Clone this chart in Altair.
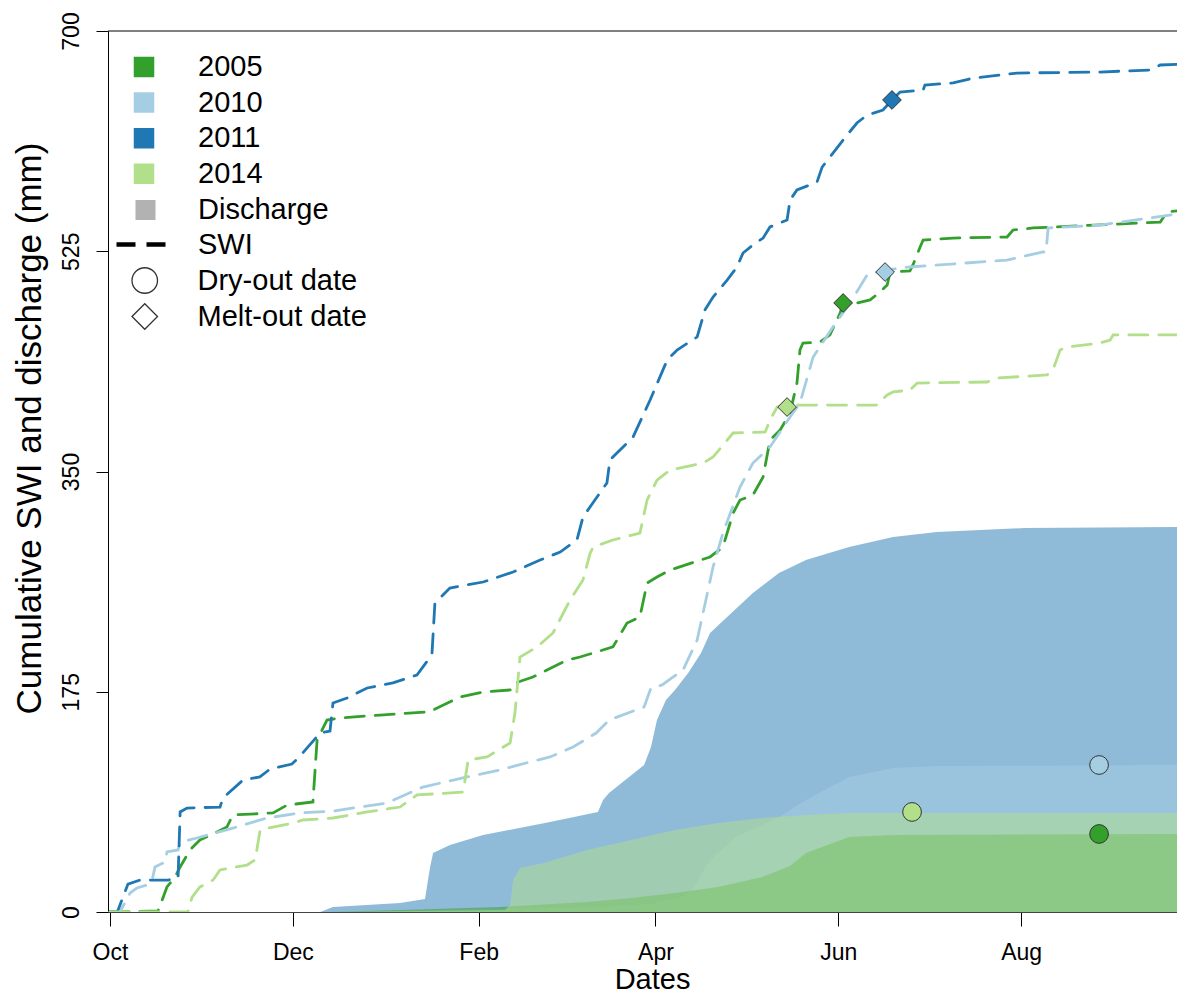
import altair as alt
import pandas as pd

# ---------------- data ----------------
years = ["2005", "2010", "2011", "2014"]
year_colors = ["#33a02c", "#a6cee3", "#1f78b4", "#b2df8a"]

# x axis: days since 1 October
tick_days = [0, 61, 123, 182, 243, 304]
tick_labels = ["Oct", "Dec", "Feb", "Apr", "Jun", "Aug"]
y_ticks = [0, 175, 350, 525, 700]

# cumulative SWI (mm)
swi_2011_day = [0, 2.3, 2.7, 6.0, 10.0, 19.4, 22.7, 23.4, 25.7, 36.7, 37.7, 44.4, 50.0, 53.4, 60.7,
                63.4, 70.1, 73.4, 74.4, 79.1, 85.8, 94.4, 102.4, 106.1, 107.4, 108.4, 113.4, 124.5,
                134.5, 143.5, 150.2, 155.8, 157.8, 165.8, 166.8, 174.5, 180.2, 185.9, 189.2, 195.9,
                198.5, 201.2, 205.9, 209.2, 211.2, 214.5, 217.9, 220.2, 225.9, 226.9, 229.2, 235.9,
                237.6, 240.2, 244.6, 249.2, 252.6, 257.9, 260.9, 263.6, 271.3, 271.9, 281.3, 288.0,
                302.6, 330.3, 347.0, 350.4, 358.7]
swi_2011_val = [0, 0, 1.6, 22.2, 25.4, 25.4, 27.0, 79.5, 82.6, 83.4, 90.6, 104.9, 107.3, 113.6, 117.6,
                123.9, 142.2, 143.8, 166.1, 170.0, 178.0, 182.0, 188.3, 200.2, 204.2, 245.5, 257.4,
                262.2, 270.1, 279.7, 286.0, 295.6, 313.8, 340.9, 359.1, 377.4, 406.8, 438.6, 446.5,
                456.9, 478.3, 488.6, 502.1, 512.5, 523.6, 530.0, 535.5, 544.3, 549.8, 565.7, 573.7,
                580.0, 591.9, 599.9, 613.4, 626.9, 633.2, 637.2, 645.2, 651.5, 653.1, 657.1, 658.7,
                662.6, 666.6, 667.4, 669.0, 673.0, 673.8]

swi_2010_day = [0, 3.3, 6.7, 9.0, 12.3, 14.3, 15.0, 18.4, 19.0, 22.7, 23.4, 29.0, 41.0, 52.4, 63.4,
                74.4, 92.4, 104.4, 119.1, 130.1, 140.1, 146.8, 154.5, 162.2, 166.5, 178.2, 180.5,
                184.2, 191.2, 195.9, 201.2, 204.5, 210.2, 214.5, 220.2, 226.9, 230.2, 234.6, 241.2,
                246.9, 252.6, 258.6, 266.9, 299.3, 311.3, 312.3, 313.0, 330.3, 358.7]
swi_2010_val = [0, 0, 15.1, 19.1, 21.5, 27.8, 35.8, 39.7, 47.7, 49.3, 55.6, 58.8, 66.7, 74.7, 78.7,
                80.2, 86.6, 99.3, 107.3, 112.8, 119.2, 123.2, 131.1, 142.2, 152.5, 162.9, 178.0,
                180.4, 192.3, 216.1, 274.1, 301.1, 337.7, 356.7, 369.5, 393.3, 404.4, 441.0, 464.8,
                483.9, 506.1, 510.1, 512.5, 518.0, 524.4, 524.4, 543.5, 545.8, 555.4]

swi_2005_day = [0, 16.0, 17.4, 19.0, 21.7, 23.4, 26.7, 30.0, 35.7, 39.0, 41.0, 54.4, 59.1, 67.7, 69.1,
                72.4, 76.7, 90.1, 105.8, 107.8, 116.8, 124.5, 133.5, 135.1, 141.1, 145.8, 152.5,
                156.8, 167.8, 172.5, 176.8, 179.2, 182.5, 186.9, 200.2, 204.5, 207.9, 210.2, 214.5,
                217.9, 220.2, 223.6, 226.9, 229.2, 230.2, 231.2, 236.9, 240.2, 243.6, 244.6, 249.2,
                253.6, 256.9, 259.3, 260.3, 266.9, 267.9, 270.3, 271.3, 281.3, 299.3, 301.3, 308.0,
                350.4, 352.7, 358.7]
swi_2005_val = [0, 0.8, 9.5, 19.9, 27.8, 35.8, 49.3, 57.2, 63.6, 67.5, 77.1, 78.7, 85.0, 87.4, 136.7,
                152.5, 154.1, 156.5, 158.9, 160.5, 170.8, 174.8, 176.4, 181.9, 186.7, 192.3, 200.2,
                202.6, 210.6, 229.6, 234.4, 261.4, 266.2, 271.7, 282.1, 290.0, 317.0, 327.3, 331.3,
                345.6, 375.0, 383.0, 396.5, 420.3, 446.5, 452.1, 452.9, 458.5, 475.9, 483.9, 483.9,
                486.3, 492.6, 498.2, 508.5, 509.3, 514.1, 528.4, 533.9, 535.5, 536.3, 541.9, 543.5,
                548.2, 556.2, 557.8]

swi_2014_day = [0, 26.0, 27.4, 30.0, 34.4, 36.7, 45.7, 48.4, 50.1, 54.4, 61.1, 64.4, 74.4, 85.8, 96.8,
                102.4, 117.8, 119.5, 125.8, 133.5, 135.1, 136.8, 142.5, 147.8, 153.5, 157.8, 160.2,
                161.2, 167.8, 176.8, 179.2, 182.5, 186.9, 197.9, 201.2, 207.9, 218.6, 220.2, 222.6,
                225.9, 255.9, 259.3, 261.3, 266.9, 269.3, 292.6, 296.0, 312.6, 314.6, 317.0, 319.3,
                330.3, 333.7, 334.7, 358.7]
swi_2014_val = [0, 0, 11.9, 19.9, 25.4, 33.4, 37.3, 41.3, 65.2, 67.5, 70.7, 73.1, 74.7, 79.5, 83.4,
                93.0, 95.3, 120.8, 123.2, 134.3, 158.1, 202.6, 210.6, 221.7, 247.9, 263.8, 285.2,
                290.0, 295.6, 301.1, 327.3, 343.2, 351.2, 356.7, 361.5, 380.6, 381.4, 390.9, 401.2,
                402.8, 402.8, 410.8, 413.2, 414.7, 420.3, 421.1, 424.3, 426.7, 430.6, 446.5, 448.9,
                452.1, 454.5, 458.5, 458.5]

# cumulative discharge (mm)
q_2011_day = [0, 70.1, 74.4, 96.8, 105.1, 106.1, 106.8, 107.8, 113.4, 124.5, 146.8, 162.8, 164.5,
              166.5, 178.2, 180.5, 182.5, 185.5, 188.5, 192.9, 197.2, 200.2, 205.9, 214.5, 223.2,
              232.2, 246.6, 261.3, 275.9, 305.0, 358.7]
q_2011_val = [0, 0, 4.0, 7.2, 10.3, 25.4, 35.8, 46.9, 53.2, 61.2, 71.5, 79.5, 89.0, 94.6, 116.8,
              131.1, 152.5, 168.4, 176.4, 189.9, 205.8, 221.7, 234.4, 253.5, 269.3, 279.7, 290.0,
              298.0, 301.9, 305.1, 305.9]
q_2010_day = [0, 73.4, 130.1, 163.5, 180.2, 190.2, 194.2, 200.2, 208.9, 223.2, 232.2, 246.6, 261.3,
              275.9, 358.7]
q_2010_val = [0, 0, 2.4, 4.0, 6.4, 11.1, 17.5, 41.3, 59.6, 75.5, 89.0, 107.3, 114.4, 116.0, 116.8]
q_2005_day = [0, 73.4, 96.8, 130.1, 159.2, 173.8, 188.5, 202.9, 217.6, 226.9, 232.2, 246.6, 261.3,
              358.7]
q_2005_val = [0, 0, 1.6, 4.0, 7.9, 11.1, 15.1, 19.9, 27.8, 36.5, 46.9, 59.6, 61.2, 62.0]
q_2014_day = [0, 73.4, 131.8, 133.5, 134.5, 136.8, 144.8, 159.2, 173.8, 188.5, 202.9, 217.6, 232.2,
              246.6, 358.7]
q_2014_val = [0, 0, 1.6, 5.6, 25.4, 35.0, 38.9, 49.3, 57.2, 65.2, 70.7, 74.7, 77.1, 78.7, 78.7]

# event markers
melt_years = ["2005", "2010", "2011", "2014"]
melt_day = [244.6, 258.6, 260.9, 225.9]
melt_val = [483.9, 508.5, 645.2, 401.2]
dry_years = ["2005", "2010", "2014"]
dry_day = [330.0, 330.0, 267.6]
dry_val = [62.0, 116.8, 79.5]

# ---------------- tables ----------------
swi = pd.concat([
    pd.DataFrame({"day": swi_2005_day, "value": swi_2005_val, "year": "2005"}),
    pd.DataFrame({"day": swi_2010_day, "value": swi_2010_val, "year": "2010"}),
    pd.DataFrame({"day": swi_2011_day, "value": swi_2011_val, "year": "2011"}),
    pd.DataFrame({"day": swi_2014_day, "value": swi_2014_val, "year": "2014"}),
], ignore_index=True)
swi["kind"] = "SWI"

q_tables = {
    "2011": pd.DataFrame({"day": q_2011_day, "value": q_2011_val, "year": "2011"}),
    "2010": pd.DataFrame({"day": q_2010_day, "value": q_2010_val, "year": "2010"}),
    "2005": pd.DataFrame({"day": q_2005_day, "value": q_2005_val, "year": "2005"}),
    "2014": pd.DataFrame({"day": q_2014_day, "value": q_2014_val, "year": "2014"}),
}
for t in q_tables.values():
    t["kind"] = "Discharge"

events = pd.concat([
    pd.DataFrame({"day": dry_day, "value": dry_val, "year": dry_years, "type": "Dry-out date"}),
    pd.DataFrame({"day": melt_day, "value": melt_val, "year": melt_years, "type": "Melt-out date"}),
], ignore_index=True)

top_frame = pd.DataFrame({"value": [y_ticks[-1]]})

# ---------------- encodings ----------------
FONT = "Liberation Sans"
W, H = 1069, 881
x_domain = [-0.67, 356.0]

label_expr = "".join(f"datum.value == {d} ? '{l}' : " for d, l in zip(tick_days, tick_labels)) + "''"

x_enc = alt.X(
    "day:Q",
    scale=alt.Scale(domain=x_domain, nice=False, zero=False),
    axis=alt.Axis(
        values=tick_days, labelExpr=label_expr, grid=False, tickSize=14,
        tickColor="black", domainColor="#444", labelColor="black", labelFontSize=23,
        labelPadding=15, labelFlush=False, labelOverlap=False,
        title="Dates", titleFontSize=29, titleFontWeight="normal", titleColor="black",
        titleX=544, titleY=76, titleBaseline="alphabetic", titleAlign="center",
    ),
)
y_enc = alt.Y(
    "value:Q",
    stack=None,
    scale=alt.Scale(domain=[0, 700], nice=False),
    axis=alt.Axis(
        values=y_ticks, grid=False, tickSize=12, tickColor="black", domainColor="black",
        labelAngle=270, labelAlign="center", labelBaseline="alphabetic", labelFontSize=23,
        labelColor="black", labelPadding=18, labelFlush=False, labelOverlap=False,
        title="Cumulative SWI and discharge (mm)", titleFontSize=35, titleFontWeight="normal",
        titleColor="black", titleAngle=270, titleX=-68, titleY=397,
        titleBaseline="alphabetic", titleAlign="center",
    ),
)

color_enc = alt.Color(
    "year:N",
    scale=alt.Scale(domain=years, range=year_colors),
    legend=alt.Legend(
        orient="none", legendX=21.5, legendY=21.5, title=None, symbolType="square",
        symbolSize=361, symbolStrokeColor="#333", symbolStrokeWidth=1.5, symbolOpacity=1,
        labelOffset=39.5, rowPadding=5.6,
    ),
)
opacity_enc = alt.Opacity(
    "kind:N",
    scale=alt.Scale(domain=["Discharge"], range=[0.5, 0.5]),
    legend=alt.Legend(
        orient="none", legendX=23, legendY=164.5, title=None, symbolType="square",
        symbolSize=400, symbolFillColor="#666666", symbolStrokeColor="#666666",
        symbolStrokeWidth=0, labelOffset=38,
    ),
)
dash_enc = alt.StrokeDash(
    "kind:N",
    scale=alt.Scale(domain=["SWI"], range=[[19, 11]]),
    legend=alt.Legend(
        orient="none", legendX=6, legendY=184.5, title=None, symbolType="stroke",
        symbolSize=2809, symbolStrokeColor="black", symbolStrokeWidth=4.5,
        symbolDash=[25, 4], labelOffset=26,
    ),
)
shape_enc = alt.Shape(
    "type:N",
    scale=alt.Scale(domain=["Dry-out date", "Melt-out date"], range=["circle", "diamond"]),
    legend=alt.Legend(
        orient="none", legendX=22.25, legendY=235, title=None, symbolSize=650,
        symbolFillColor="white", symbolStrokeColor="#333", symbolStrokeWidth=1.3,
        labelOffset=38.25, rowPadding=5,
    ),
)

# ---------------- layers ----------------
area_layers = [
    alt.Chart(q_tables[yr]).mark_area(clip=True).encode(
        x=x_enc, y=y_enc, color=color_enc, opacity=opacity_enc
    )
    for yr in ["2011", "2010", "2005", "2014"]
]

lines = alt.Chart(swi).mark_line(strokeWidth=2.8, strokeCap="round", clip=True).encode(
    x=x_enc, y=y_enc, color=color_enc, strokeDash=dash_enc, detail="year:N"
)

points = alt.Chart(events).mark_point(
    filled=True, stroke="#333", strokeWidth=1, opacity=1, size=350
).encode(x=x_enc, y=y_enc, color=color_enc, shape=shape_enc)

# top frame line of the plot box (the right side lies beyond the picture)
top_line = alt.Chart(top_frame).mark_rule(color="black", strokeWidth=1).encode(y=y_enc)

chart = alt.layer(*area_layers, lines, points, top_line).properties(
    width=W, height=H,
    padding={"left": 100, "top": 23, "right": 0, "bottom": 82},
    autosize=alt.AutoSizeParams(type="none"),
).configure(font=FONT).configure_view(
    stroke="transparent", strokeWidth=0
).configure_legend(
    labelFont=FONT, labelFontSize=29, labelColor="black", padding=0, rowPadding=5.6,
    labelLimit=400,
)

chart.save("out.html", embed_options={"renderer": "svg", "actions": False})
